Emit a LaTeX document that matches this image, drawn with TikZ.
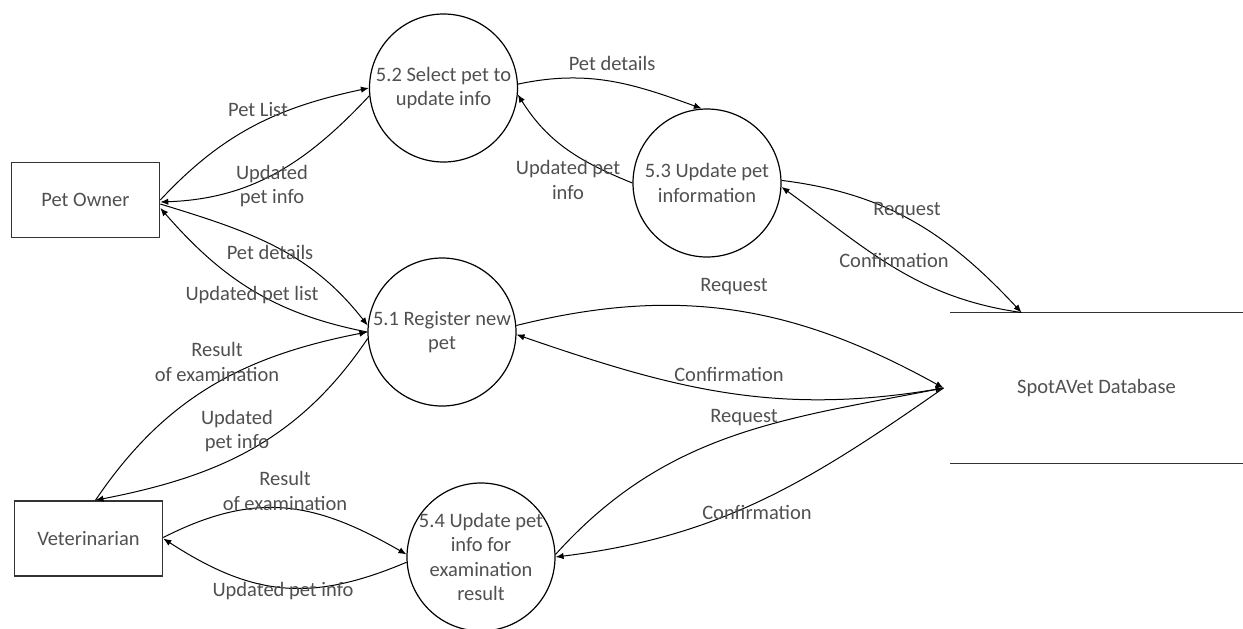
\documentclass[tikz,border=0pt]{standalone}
\usepackage{fontspec}
\setmainfont{Carlito}
\usetikzlibrary{arrows.meta,positioning,calc}
\definecolor{txtgray}{HTML}{505050}

\begin{document}
\begin{tikzpicture}[>={Latex[length=4pt,width=3.2pt]},x=0.5pt,y=0.5pt,
 font=\fontsize{10.25}{12.25}\selectfont,text=txtgray,line width=0.5pt,
 ent/.style={draw=black!80,line width=0.8pt,minimum width=74pt,minimum height=37.5pt,inner sep=0pt},
 proc/.style={draw,circle,line width=0.6pt,minimum size=74pt,inner sep=-6pt,align=center},
 lab/.style={align=center,inner sep=0pt}]
\useasboundingbox (0,0) rectangle (1243,-628);
% external entities and store
\node[ent] (owner) at (85.5,-200) {Pet Owner};
\node[ent] (vet) at (88.5,-538.5) {Veterinarian};
\node[minimum width=146.5pt,minimum height=75pt,inner sep=0pt] (db) at (1096.5,-388) {SpotAVet Database};
\draw[black!80,line width=0.7pt] (db.north west) -- (db.north east);
\draw[black!80,line width=0.7pt] (db.south west) -- (db.south east);
\coordinate (dbin) at ([xshift=-3pt]db.west);
\coordinate (dbtop) at ([xshift=36pt]db.north west);
% processes
\node[proc] (c52) at (443.5,-88) {5.2 Select pet to\\update info};
\node[proc] (c53) at (707,-183) {5.3 Update pet\\information};
\node[proc] (c51) at (442,-332) {5.1 Register new\\pet};
\node[proc] (c54) at (481,-557) {5.4 Update pet\\info for\\examination\\result};
% flows
\draw[->] (owner.east) to[out=47,in=192] (c52.180);
\draw[->] (c52.186) to[out=227,in=2] ([yshift=-1pt]owner.east);
\draw[->] ([yshift=-2pt]owner.east) to[out=-17,in=128] (c51.175);
\draw[->] (c51.180) to[out=169,in=-49] ([yshift=-4pt]owner.east);
\draw[->] ([xshift=3.5pt]vet.north) to[out=56,in=191] (c51.180);
\draw[->] (c51.185) to[out=236,in=11] ([xshift=3.5pt]vet.north);
\draw[->] ([yshift=0.5pt]vet.east) to[out=27,in=150,looseness=1.1] (c54.178);
\draw[->] (c54.184) to[out=203,in=-33,looseness=1.1] (vet.east);
\draw[->] (c52.3) to[out=12,in=160] (c53.94);
\draw[->] (c53.180) to[out=158,in=-58] (c52.-5);
\draw[->] (c53.2) to[out=-7,in=133] (dbtop);
\draw[->] (dbtop) to[out=172,in=-36] (c53.-3);
\draw[->] (c51.5) to[out=14,in=151] (dbin);
\draw[->] (dbin) to[out=190,in=-19] (c51.-2);
\draw[->] (c54.2) to[out=48,in=191] (dbin);
\draw[->] (dbin) to[out=215,in=7] (c54.0);
% flow labels
\node[lab] (lpetlist) at (258,-110) {Pet List};
\node[lab] (lupdinfoa) at (272,-186) {Updated\\pet info};
\node[lab] (lpetdeta) at (270,-252) {Pet details};
\node[lab] (lupdlist) at (252,-295) {Updated pet list};
\node[lab] (lresulta) at (217,-362) {Result\\of examination};
\node[lab] (lupdinfob) at (237,-431) {Updated\\pet info};
\node[lab] (lresultb) at (285,-491) {Result\\of examination};
\node[lab] (lupdinfoc) at (283,-591) {Updated pet info};
\node[lab] (lpetdetb) at (612,-63) {Pet details};
\node[lab] (lupdinfod) at (568,-180) {Updated pet\\info};
\node[lab] (lreqa) at (907,-211) {Request};
\node[lab] (lconfa) at (894,-260) {Confirmation};
\node[lab] (lreqb) at (734,-287) {Request};
\node[lab] (lconfb) at (729,-374) {Confirmation};
\node[lab] (lreqc) at (744,-418) {Request};
\node[lab] (lconfc) at (757,-512) {Confirmation};
\end{tikzpicture}
\end{document}
